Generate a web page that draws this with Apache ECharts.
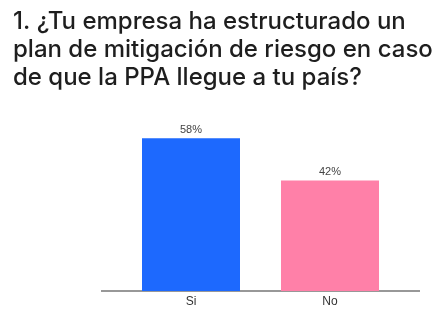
<!DOCTYPE html>
<html><head><meta charset="utf-8">
<script src="https://cdn.jsdelivr.net/npm/echarts@6/dist/echarts.min.js"></script>
<style>html,body{margin:0;padding:0;background:#fff;}#c{width:447px;height:322px;}</style>
</head><body><div id="c"></div>
<script>
const categories = ['Si', 'No'];
const values = [58, 42];
const barColors = ['#1d69fe', '#ff80a8'];
const titleLines = ['1. ¿Tu empresa ha estructurado un', 'plan de mitigación de riesgo en caso', 'de que la PPA llegue a tu país?'];

const chart = echarts.init(document.getElementById('c'));
chart.setOption({
  animation: false,
  title: {
    text: titleLines.join('\n'), left: 8, top: 3,
    textStyle: { fontFamily: 'Inter', fontSize: 24, fontWeight: 500, color: '#1e1e1e', lineHeight: 28 }
  },
  grid: { left: 121.5, right: 47.5, top: 133, bottom: 31 },
  xAxis: {
    type: 'category', data: categories,
    axisLine: { show: false }, axisTick: { show: false },
    axisLabel: { color: '#333', fontSize: 12, fontFamily: 'Liberation Sans', margin: 5 }
  },
  yAxis: { type: 'value', min: 0, max: 60, show: false, splitLine: { show: false } },
  graphic: [{
    type: 'line', shape: { x1: 101, y1: 291, x2: 420, y2: 291 },
    style: { stroke: '#333', lineWidth: 1.2 }
  }],
  series: [{
    type: 'bar', barWidth: 98,
    data: values.map((v, i) => ({ value: v, itemStyle: { color: barColors[i] } })),
    label: { show: true, position: 'top', distance: 3, formatter: '{c}%', color: '#444', fontSize: 11, fontFamily: 'Liberation Sans' }
  }]
});
</script></body></html>
